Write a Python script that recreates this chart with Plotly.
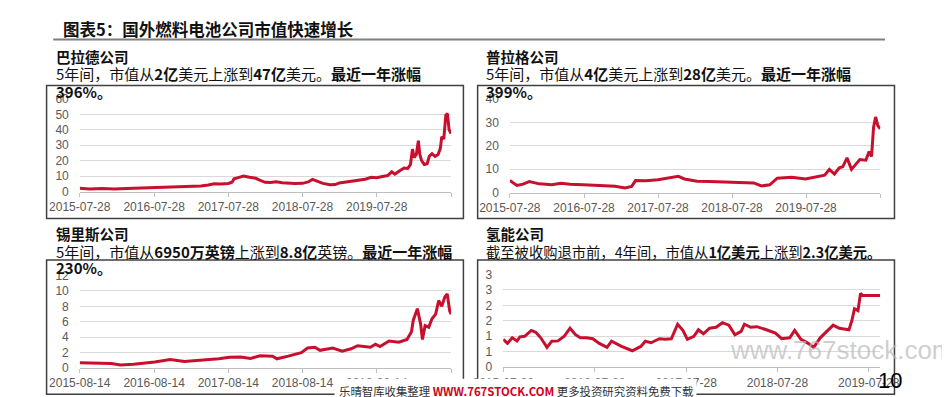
import plotly.graph_objects as go

# ---------------- data ----------------
ballard_dates = ["2015-07-28","2015-09-15","2015-11-15","2016-01-15","2016-03-15","2016-05-15","2016-07-28",
    "2016-09-15","2016-11-15","2017-01-15","2017-03-15","2017-04-20","2017-05-20","2017-06-20","2017-07-28",
    "2017-08-15","2017-08-25","2017-09-15","2017-10-10","2017-11-10","2017-12-10","2018-01-05","2018-01-25",
    "2018-02-20","2018-03-20","2018-04-20","2018-05-20","2018-06-20","2018-07-28","2018-08-25","2018-09-15",
    "2018-10-10","2018-11-05","2018-12-10","2019-01-05","2019-01-25","2019-03-01","2019-04-01","2019-05-01",
    "2019-06-01","2019-07-01","2019-07-28","2019-08-25","2019-09-20","2019-10-10","2019-10-25","2019-11-20",
    "2019-12-10","2019-12-28","2020-01-10","2020-01-20","2020-01-28","2020-02-08","2020-02-18","2020-02-25",
    "2020-03-05","2020-03-18","2020-04-01","2020-04-12","2020-04-25","2020-05-10","2020-05-25","2020-06-05",
    "2020-06-12","2020-06-22","2020-07-02","2020-07-10","2020-07-18","2020-07-28"]
ballard_values = [2.1,1.7,1.9,1.7,2.0,2.3,2.6,
    3.0,3.3,3.2,3.6,4.2,5.0,4.9,5.2,
    6.0,8.2,9.0,10.0,9.2,8.6,7.0,6.0,
    5.8,6.3,5.7,5.4,5.2,5.3,6.2,7.9,
    6.8,5.3,4.4,4.5,5.6,6.2,6.8,7.6,
    8.0,9.2,9.0,9.8,10.4,12.8,11.3,13.6,
    15.2,15.0,17.5,27.5,22.0,24.0,33.0,24.0,
    20.0,17.5,18.0,23.0,24.5,22.8,24.0,28.0,
    35.5,34.0,49.5,50.5,40.0,37.5]

plug_dates = ["2015-07-28","2015-09-01","2015-10-01","2015-11-01","2015-12-20","2016-02-20","2016-04-05",
    "2016-05-20","2016-07-25","2016-09-28","2016-11-15","2016-12-28","2017-02-15","2017-03-20","2017-04-08",
    "2017-05-30","2017-07-28","2017-09-28","2017-11-05","2017-12-05","2018-02-05","2018-04-08","2018-07-28",
    "2018-11-12","2018-12-20","2019-01-30","2019-03-08","2019-05-18","2019-07-25","2019-09-20","2019-10-28",
    "2019-11-20","2019-12-15","2020-01-08","2020-01-25","2020-02-15","2020-03-08","2020-03-25","2020-04-18",
    "2020-05-18","2020-06-03","2020-06-15","2020-06-25","2020-07-05","2020-07-16","2020-07-28"]
plug_values = [5.1,3.0,3.6,4.7,3.7,3.3,4.0,
    3.5,3.3,3.0,2.9,2.7,1.9,2.6,5.1,
    5.0,5.5,6.5,6.9,5.8,4.8,4.7,4.4,
    4.1,2.8,3.3,6.1,6.5,5.8,6.9,7.4,
    9.9,7.9,10.6,11.0,14.8,9.9,11.6,14.1,
    13.8,17.5,15.4,27.9,32.3,28.6,27.2]

ceres_dates = ["2015-08-14","2016-01-17","2016-03-01","2016-05-05","2016-08-17","2016-11-01","2017-01-10",
    "2017-04-10","2017-06-28","2017-08-20","2017-10-14","2017-12-01","2018-01-17","2018-03-20","2018-04-10",
    "2018-06-05","2018-08-08","2018-09-08","2018-10-14","2018-11-08","2019-01-10","2019-02-25","2019-04-10",
    "2019-05-12","2019-07-14","2019-08-08","2019-08-30","2019-10-14","2019-12-01","2020-01-10","2020-02-01",
    "2020-02-10","2020-03-01","2020-03-17","2020-03-26","2020-04-08","2020-04-26","2020-05-12","2020-05-30",
    "2020-06-14","2020-06-29","2020-07-14","2020-07-26","2020-08-07","2020-08-14"]
ceres_values = [0.7,0.6,0.4,0.5,0.8,1.1,0.85,
    1.0,1.2,1.4,1.45,1.25,1.6,1.55,1.2,
    1.55,2.0,2.6,2.7,2.3,2.6,2.2,2.5,
    2.9,2.7,3.1,2.8,3.5,3.35,3.7,4.7,
    6.2,7.7,5.7,3.7,5.5,5.3,6.4,7.0,
    8.75,8.0,9.2,9.6,7.4,7.0]

hydro_dates = ["2015-07-28","2015-08-14","2015-09-02","2015-09-21","2015-10-03","2015-10-22","2015-11-17",
    "2015-12-05","2015-12-25","2016-01-19","2016-02-07","2016-03-03","2016-03-28","2016-04-20","2016-05-12",
    "2016-05-31","2016-06-25","2016-07-20","2016-08-15","2016-09-15","2016-10-03","2016-11-12","2016-12-25",
    "2017-01-28","2017-02-15","2017-03-10","2017-04-12","2017-05-06","2017-05-30","2017-06-24","2017-07-15",
    "2017-08-02","2017-08-28","2017-09-15","2017-10-05","2017-10-30","2017-11-25","2017-12-20","2018-01-15",
    "2018-02-08","2018-03-05","2018-03-18","2018-04-12","2018-05-07","2018-06-14","2018-07-20","2018-08-14",
    "2018-09-15","2018-10-05","2018-10-30","2018-11-28","2018-12-20","2019-01-15","2019-02-18","2019-03-08",
    "2019-04-01","2019-05-10","2019-05-22","2019-06-01","2019-06-15","2019-06-25","2019-07-03","2019-09-12"]
hydro_values = [0.90,0.77,0.95,0.85,0.98,1.00,1.19,
    1.13,0.95,0.64,0.84,0.85,1.00,1.26,1.05,
    0.95,0.95,0.92,0.77,0.64,0.84,0.67,0.53,
    0.67,0.84,0.79,0.92,0.90,0.92,1.39,1.19,
    0.90,1.00,1.21,1.08,1.26,1.29,1.44,1.36,
    1.05,1.16,1.39,1.29,1.31,1.21,1.10,0.92,
    0.95,1.19,0.90,0.77,0.64,0.95,1.21,1.36,
    1.26,1.21,1.52,1.89,1.83,2.39,2.32,2.32]

ballard_ticks = ["2015-07-28","2016-07-28","2017-07-28","2018-07-28","2019-07-28","2020-07-28"]
ballard_ticktext = ["2015-07-28","2016-07-28","2017-07-28","2018-07-28","2019-07-28",""]
plug_ticks = ballard_ticks
plug_ticktext = ballard_ticktext
ceres_ticks = ["2015-08-14","2016-08-14","2017-08-14","2018-08-14","2019-08-14","2020-08-14"]
ceres_ticktext = ["2015-08-14","2016-08-14","2017-08-14","2018-08-14","2019-08-14",""]
hydro_ticks = ["2015-07-28","2016-07-28","2017-07-28","2018-07-28","2019-07-28"]
hydro_ticktext = ["2015-07-28","2016-07-28","2017-07-28","2018-07-28","2019-07-28"]
hydro_yticks = [0, 0.5, 1, 1.5, 2, 2.5, 3]
hydro_yticktext = ["0", "1", "1", "2", "2", "3", "3"]

# ---------------- layout helpers ----------------
W, H = 950, 397
def fx(x): return x / W
def fy(y): return 1 - y / H

RED = "#C8102E"
CJK = "Noto Sans CJK SC, Microsoft YaHei, sans-serif"
LAT = "Liberation Sans, Arial, sans-serif"

fig = go.Figure()
series = [
    (ballard_dates, ballard_values, "x", "y"),
    (plug_dates, plug_values, "x2", "y2"),
    (ceres_dates, ceres_values, "x3", "y3"),
    (hydro_dates, hydro_values, "x4", "y4"),
]
for d, v, xa, ya in series:
    fig.add_trace(go.Scatter(x=d, y=v, xaxis=xa, yaxis=ya, mode="lines",
                             line=dict(color=RED, width=3), hoverinfo="skip", showlegend=False))

tickfont = dict(family=LAT, size=12, color="#595959")
def xax(dom, rng, tv, tt, anchor):
    return dict(domain=dom, type="date", range=rng, tickmode="array", tickvals=tv, ticktext=tt,
                showgrid=False, showline=True, linecolor="#bfbfbf", linewidth=1, ticks="outside",
                ticklen=4, tickcolor="#bfbfbf", tickfont=tickfont, anchor=anchor, fixedrange=True)
def yax(dom, rng, dtick, anchor, tv=None, tt=None):
    d = dict(domain=dom, range=rng, showgrid=True, gridcolor="#d9d9d9", gridwidth=1, zeroline=False,
             showline=False, ticks="", tickfont=tickfont, anchor=anchor, ticklabelstandoff=10, fixedrange=True)
    if tv is not None:
        d.update(tickmode="array", tickvals=tv, ticktext=tt)
    else:
        d.update(dtick=dtick, tick0=0)
    return d

fig.update_layout(
    width=W, height=H, margin=dict(l=0, r=0, t=0, b=0),
    paper_bgcolor="white", plot_bgcolor="white", showlegend=False,
    xaxis=xax([fx(43), fx(435)], ["2015-07-28", "2020-07-28"], ballard_ticks, ballard_ticktext, "y"),
    yaxis=yax([fy(183), fy(87)], [0, 60], 10, "x"),
    xaxis2=xax([fx(497), fx(888)], ["2015-07-28", "2020-07-28"], plug_ticks, plug_ticktext, "y2"),
    yaxis2=yax([fy(184), fy(87)], [0, 40], 10, "x2"),
    xaxis3=xax([fx(43), fx(435)], ["2015-08-14", "2020-08-14"], ceres_ticks, ceres_ticktext, "y3"),
    yaxis3=yax([fy(366), fy(270)], [0, 12], 2, "x3"),
    xaxis4=xax([fx(490), fx(888)], ["2015-07-28", "2019-09-12"], hydro_ticks, hydro_ticktext, "y4"),
    yaxis4=yax([fy(365), fy(269)], [0, 3], 0.5, "x4", hydro_yticks, hydro_yticktext),
)

shapes = []
# title underline
shapes.append(dict(type="line", xref="paper", yref="paper", x0=fx(15), x1=fx(893), y0=fy(25.5), y1=fy(25.5),
                   line=dict(color="#7f7f7f", width=2)))
# panel boxes
for (x0, y0, x1, y1) in [(8, 73, 448, 211), (463, 73, 903, 211), (8, 254, 448, 393), (463, 254, 903, 393)]:
    shapes.append(dict(type="rect", xref="paper", yref="paper", x0=fx(x0), x1=fx(x1), y0=fy(y1), y1=fy(y0),
                       line=dict(color="#404040", width=1.5), fillcolor="rgba(0,0,0,0)", layer="above"))
# white banner behind bottom watermark text
shapes.append(dict(type="rect", xref="paper", yref="paper", x0=fx(312), x1=fx(694), y0=fy(397), y1=fy(377),
                   line=dict(width=0), fillcolor="white", layer="above"))
fig.update_layout(shapes=shapes)

ann = []
def txt(x, y, s, size, color="#111111", family=CJK, xanchor="left"):
    ann.append(dict(xref="paper", yref="paper", x=fx(x), y=fy(y), text=s, showarrow=False,
                    xanchor=xanchor, yanchor="middle", font=dict(family=family, size=size, color=color)))

txt(23, 14, "<b>图表5：国外燃料电池公司市值快速增长</b>", 16.5)
# panel 1
txt(16, 43, "<b>巴拉德公司</b>", 14.5)
txt(16, 61, "5年间，市值从<b>2亿</b>美元上涨到<b>47亿</b>美元。<b>最近一年涨幅</b>", 15)
txt(16, 79, "<b>396%。</b>", 15)
# panel 2
txt(470, 43, "<b>普拉格公司</b>", 14.5)
txt(470, 61, "5年间，市值从<b>4亿</b>美元上涨到<b>28亿</b>美元。<b>最近一年涨幅</b>", 15)
txt(470, 79, "<b>399%。</b>", 15)
# panel 3
txt(16, 227, "<b>锡里斯公司</b>", 14.5)
txt(16, 245, "5年间，市值从<b>6950万英镑</b>上涨到<b>8.8亿</b>英镑。<b>最近一年涨幅</b>", 15)
txt(16, 262, "<b>230%。</b>", 15)
# panel 4
txt(470, 227, "<b>氢能公司</b>", 14.5)
txt(470, 245, "截至被收购退市前，4年间，市值从<b>1亿美元</b>上涨到<b>2.3亿美元。</b>", 14.3)

# watermarks
txt(727, 347, "www.767stock.com", 26, color="rgba(185,185,185,0.7)", family=LAT)
txt(315, 390, "乐晴智库收集整理 <span style='color:#d0021b'><b>WWW.767STOCK.COM</b></span> 更多投资研究资料免费下载",
    11.4, color="#333333")
# page number
txt(898, 379, "10", 22, color="#000000", family=LAT, xanchor="center")

fig.update_layout(annotations=ann)
fig.write_html("out.html")
